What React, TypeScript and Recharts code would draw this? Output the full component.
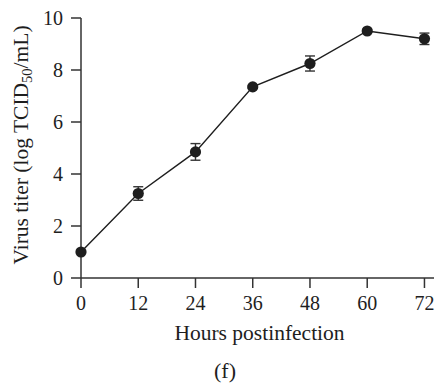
import React from "react";
import { LineChart, Line, XAxis, YAxis, ErrorBar, Label } from "recharts";

const hours = [0, 12, 24, 36, 48, 60, 72];
const titer = [1.0, 3.25, 4.85, 7.35, 8.25, 9.5, 9.2];
const sd = [0.05, 0.26, 0.32, 0.05, 0.29, 0.05, 0.22];
const xTicks = [0, 12, 24, 36, 48, 60, 72];
const yTicks = [0, 2, 4, 6, 8, 10];

const data = hours.map((h, i) => ({ h, titer: titer[i], sd: sd[i] }));

const font = "'Liberation Serif', 'DejaVu Serif', serif";
const ink = "#1e1e1e";

function YTitle(props: any) {
  const vb = props.viewBox;
  const cx = vb.x + 28;
  const cy = vb.y + vb.height / 2 - 3;
  return (
    <text
      x={cx}
      y={cy}
      transform={`rotate(-90, ${cx}, ${cy})`}
      textAnchor="middle"
      fontFamily={font}
      fontSize={21.5}
      fill={ink}
    >
      Virus titer (log TCID
      <tspan fontSize={14.5} dy={4}>50</tspan>
      <tspan dy={-4}>/mL)</tspan>
    </text>
  );
}

function XTitle(props: any) {
  const vb = props.viewBox;
  return (
    <g fontFamily={font} fill={ink}>
      <text x={vb.x + vb.width / 2 + 2} y={340} textAnchor="middle" fontSize={21.5}>
        Hours postinfection
      </text>
      <text x={225} y={378} textAnchor="middle" fontSize={22}>
        (f)
      </text>
    </g>
  );
}

export default function App() {
  return (
    <div style={{ position: "absolute", left: 0, top: 0, background: "#fff" }}>
      <LineChart
        width={438}
        height={385}
        data={data}
        margin={{ top: 18, right: 4, left: 0, bottom: 47 }}
      >
        <XAxis
          dataKey="h"
          type="number"
          domain={[0, 74]}
          ticks={xTicks}
          height={60}
          tickSize={10}
          tickMargin={8}
          stroke="#333"
          strokeWidth={1.5}
          tick={{ fill: ink, fontSize: 20, fontFamily: font }}
        >
          <Label content={<XTitle />} />
        </XAxis>
        <YAxis
          type="number"
          domain={[0, 10]}
          ticks={yTicks}
          width={81}
          tickSize={10}
          tickMargin={8}
          stroke="#333"
          strokeWidth={1.5}
          tick={{ fill: ink, fontSize: 20, fontFamily: font }}
        >
          <Label content={<YTitle />} />
        </YAxis>
        <Line
          dataKey="titer"
          stroke={ink}
          strokeWidth={1.4}
          isAnimationActive={false}
          dot={false}
        >
          <ErrorBar dataKey="sd" direction="y" width={5} stroke="#333" strokeWidth={1.4} />
        </Line>
        {/* markers drawn on top so they cover the short error bars */}
        <Line
          dataKey="titer"
          stroke="none"
          isAnimationActive={false}
          dot={{ r: 5.6, fill: ink, stroke: ink, strokeWidth: 0 }}
          activeDot={false}
        />
      </LineChart>
    </div>
  );
}
